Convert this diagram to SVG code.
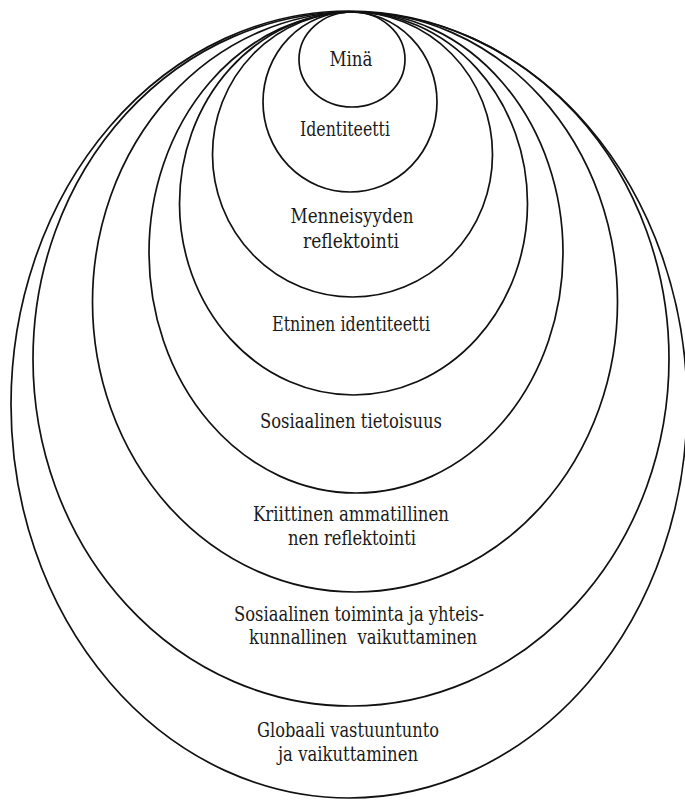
<svg xmlns="http://www.w3.org/2000/svg" width="685" height="801" viewBox="0 0 685 801">
<style>
.ring{fill:none;stroke:#111;stroke-width:1.7}
text{font-family:'DejaVu Serif','Liberation Serif',serif;font-size:20px;fill:#1a1a1a;text-anchor:middle}
</style>
<rect width="685" height="801" fill="#fff"/>
<g id="connectors"/>
<g id="globaali">
<ellipse class="ring" cx="349" cy="404.5" rx="338" ry="393.5"/>
<text x="348" y="737" textLength="182" lengthAdjust="spacingAndGlyphs">Globaali vastuuntunto</text>
<text x="348" y="761" textLength="140" lengthAdjust="spacingAndGlyphs">ja vaikuttaminen</text>
</g>
<g id="sosiaalinen-toiminta">
<ellipse class="ring" cx="351" cy="359" rx="318" ry="347"/>
<text x="359" y="621" textLength="250" lengthAdjust="spacingAndGlyphs">Sosiaalinen toiminta ja yhteis-</text>
<text x="363" y="644" textLength="228" lengthAdjust="spacingAndGlyphs" xml:space="preserve">kunnallinen  vaikuttaminen</text>
</g>
<g id="kriittinen">
<ellipse class="ring" cx="355" cy="302" rx="262.5" ry="290"/>
<text x="351" y="521" textLength="196" lengthAdjust="spacingAndGlyphs">Kriittinen ammatillinen</text>
<text x="352" y="545" textLength="128" lengthAdjust="spacingAndGlyphs">nen reflektointi</text>
</g>
<g id="sosiaalinen-tietoisuus">
<ellipse class="ring" cx="356" cy="252.5" rx="207" ry="240.5"/>
<text x="351" y="428" textLength="182" lengthAdjust="spacingAndGlyphs">Sosiaalinen tietoisuus</text>
</g>
<g id="etninen">
<ellipse class="ring" cx="353.5" cy="203.5" rx="174" ry="191.5"/>
<text x="351" y="331" textLength="158" lengthAdjust="spacingAndGlyphs">Etninen identiteetti</text>
</g>
<g id="menneisyyden">
<ellipse class="ring" cx="352.5" cy="154.5" rx="140" ry="142.5"/>
<text x="352" y="223" textLength="123" lengthAdjust="spacingAndGlyphs">Menneisyyden</text>
<text x="351" y="248" textLength="96" lengthAdjust="spacingAndGlyphs">reflektointi</text>
</g>
<g id="identiteetti">
<ellipse class="ring" cx="350" cy="102" rx="87" ry="90"/>
<text x="345" y="136" textLength="90" lengthAdjust="spacingAndGlyphs">Identiteetti</text>
</g>
<g id="mina">
<ellipse class="ring" cx="352" cy="59.5" rx="53" ry="47.5"/>
<text x="351" y="66" textLength="43" lengthAdjust="spacingAndGlyphs">Minä</text>
</g>
</svg>
